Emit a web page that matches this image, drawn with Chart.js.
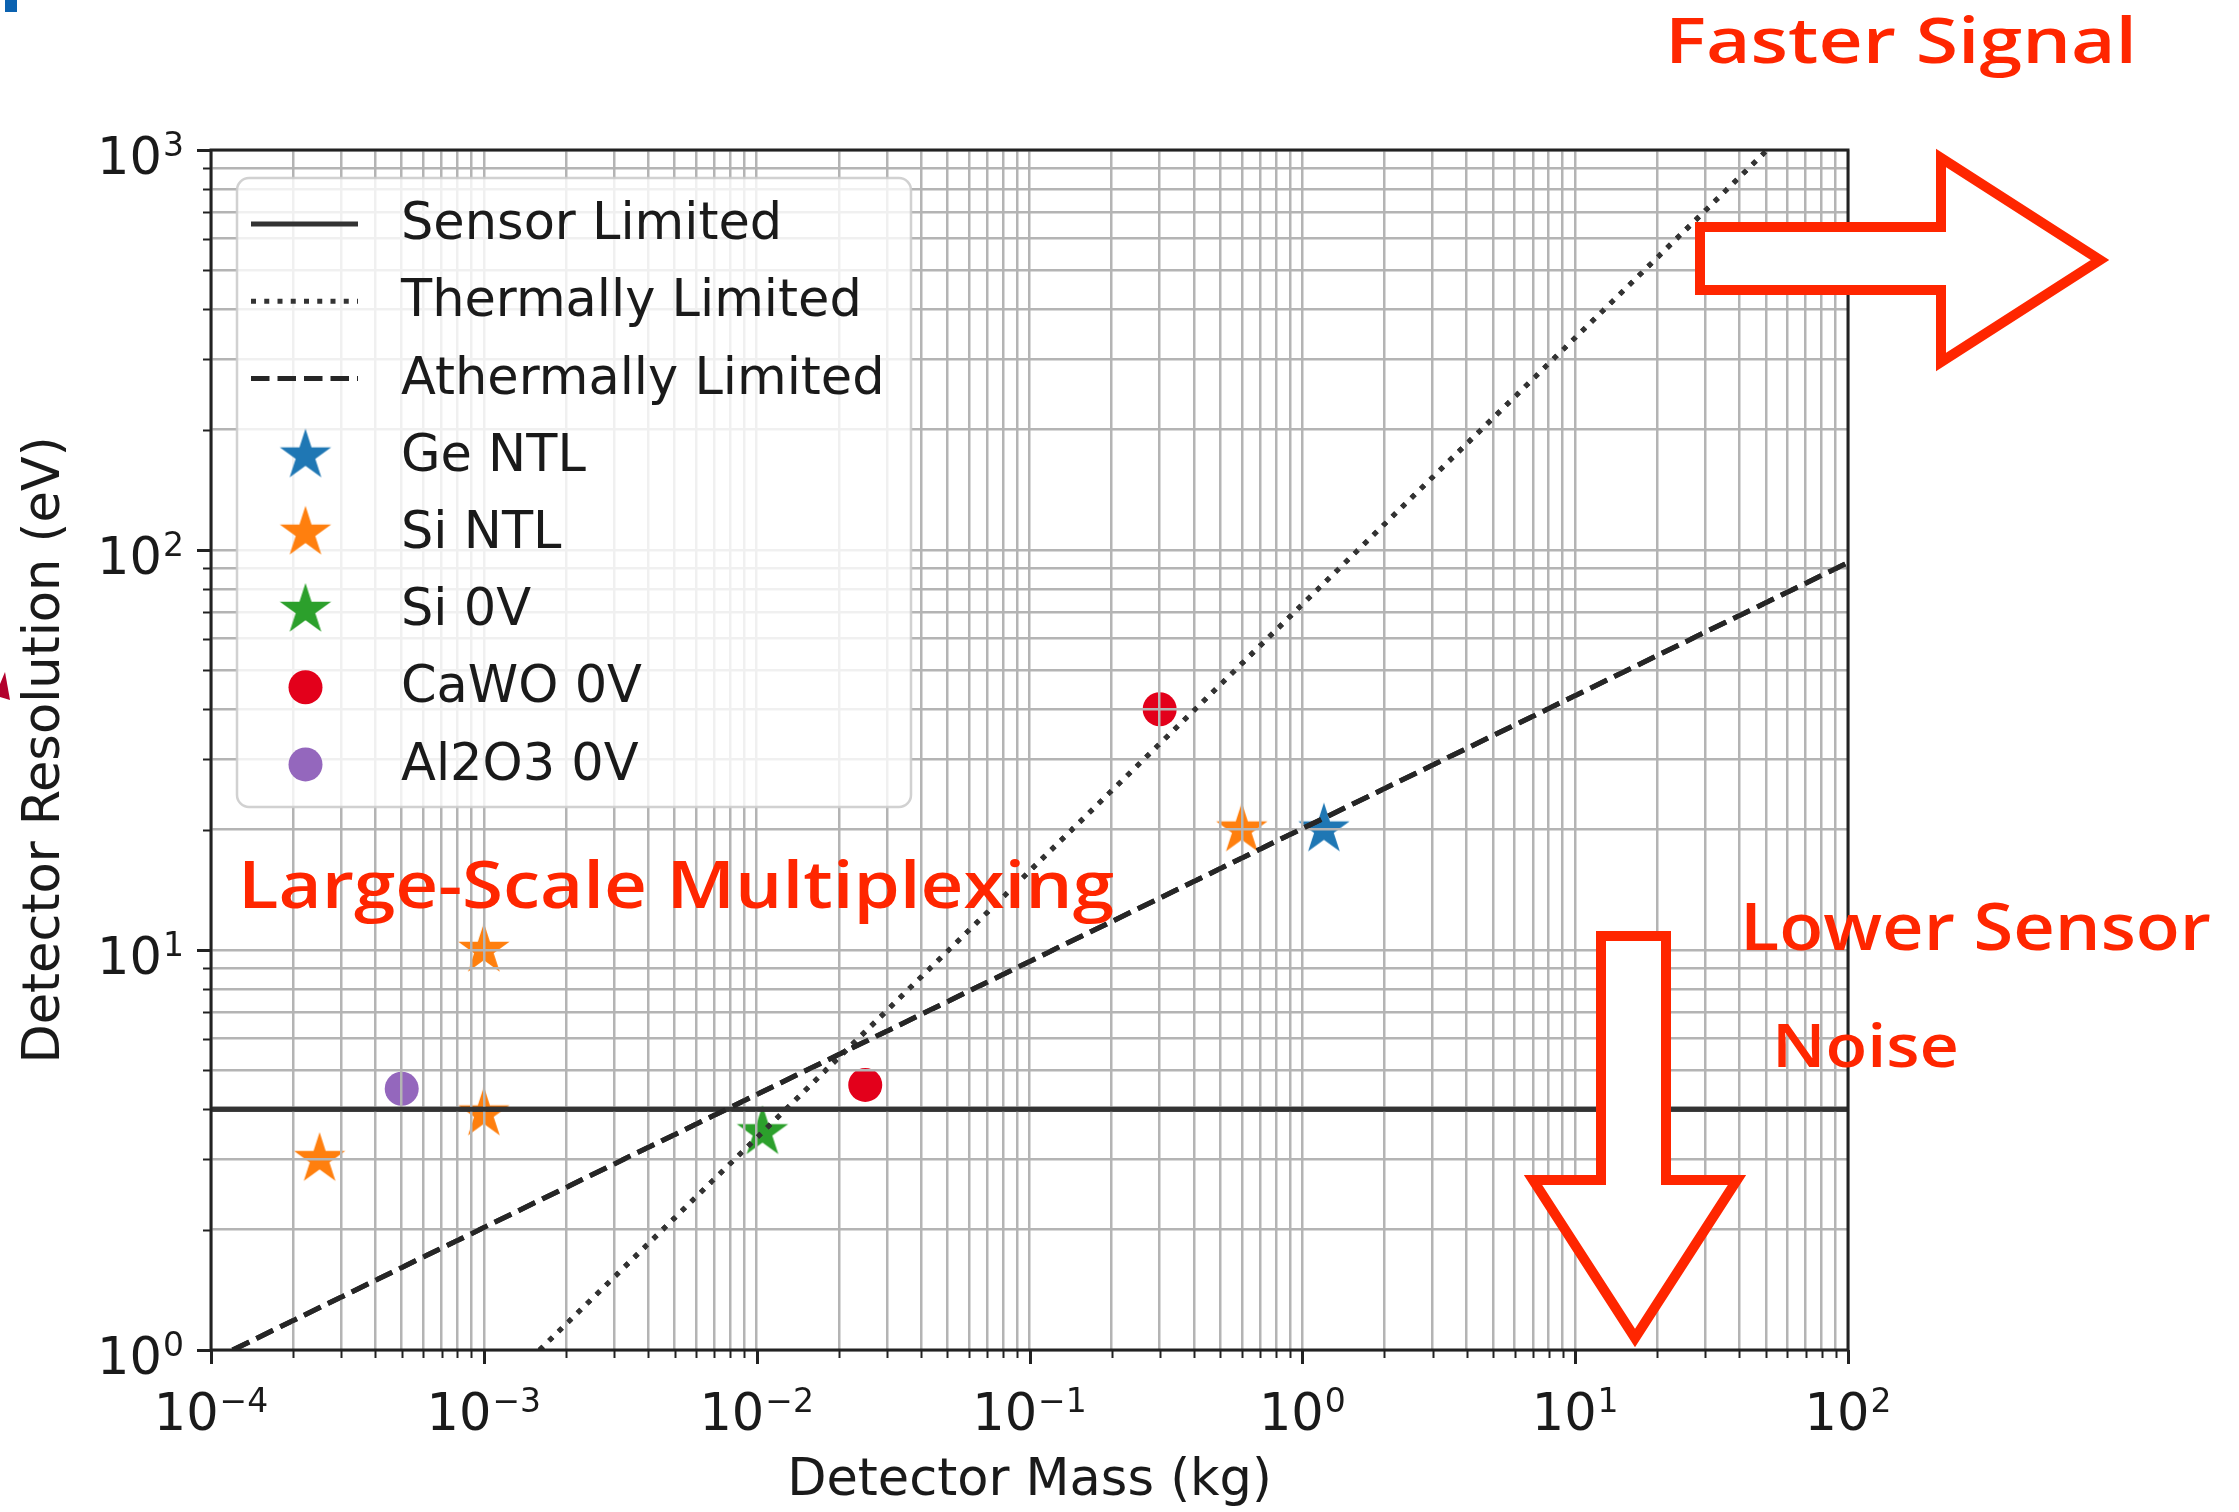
<!DOCTYPE html>
<html>
<head>
<meta charset="utf-8">
<title>Detector Resolution vs Detector Mass</title>
<script src="https://cdn.jsdelivr.net/npm/chart.js@4.4.1/dist/chart.umd.min.js"></script>
<style>
  html, body { margin: 0; padding: 0; background: #ffffff; }
  #wrap { width: 2239px; height: 1512px; position: relative; }
  canvas { display: block; }
</style>
</head>
<body>
<div id="wrap"><canvas id="chart" width="2239" height="1512"></canvas></div>
<script>
// ---- data (detector mass in kg, resolution in eV) ----
const sensorMass    = [1e-4, 1e2];
const sensorRes     = [4, 4];
const thermalMass   = [1.6e-3, 50.6];
const thermalRes    = [1, 1000];
const athermalMass  = [1.2e-4, 100];
const athermalRes   = [1, 93];

const geNtlMass  = [1.2];
const geNtlRes   = [20];
const siNtlMass  = [2.5e-4, 1e-3, 1e-3, 0.6];
const siNtlRes   = [3.0, 3.9, 10, 20];
const si0vMass   = [0.0105];
const si0vRes    = [3.5];
const cawoMass   = [0.025, 0.3];
const cawoRes    = [4.6, 40];
const al2o3Mass  = [5e-4];
const al2o3Res   = [4.5];

// axis decades and tick labels (base and exponent)
const xDecades = [-4, -3, -2, -1, 0, 1, 2];
const yDecades = [0, 1, 2, 3];
const tickBase = '10';
const xTickExponents = ['\u22124', '\u22123', '\u22122', '\u22121', '0', '1', '2'];
const yTickExponents = ['0', '1', '2', '3'];

// annotation texts
const notes = {
  faster: 'Faster Signal',
  multiplex: 'Large-Scale Multiplexing',
  lower: 'Lower Sensor',
  noise: 'Noise'
};

const pts = (xs, ys) => xs.map((x, i) => ({ x, y: ys[i] }));

const FONT = "'DejaVu Sans', 'Liberation Sans', sans-serif";
const LINE_COLOR = '#333333';
const RED_NOTE = '#ff2600';
const TEXT_COLOR = '#1a1a1a';

// five-pointed star marker drawn on a small canvas
function starMarker(color, R) {
  const c = document.createElement('canvas');
  const size = Math.ceil(R * 2 + 4);
  c.width = size; c.height = size;
  const g = c.getContext('2d');
  const cx = size / 2, cy = size / 2, r = R * 0.381966;
  g.beginPath();
  for (let k = 0; k < 10; k++) {
    const rad = k % 2 === 0 ? R : r;
    const a = -Math.PI / 2 + k * Math.PI / 5;
    const px = cx + rad * Math.cos(a), py = cy + rad * Math.sin(a);
    if (k === 0) g.moveTo(px, py); else g.lineTo(px, py);
  }
  g.closePath();
  g.fillStyle = color;
  g.fill();
  return c;
}

const STAR_R = 27;
const DOT_R = 17;

const datasets = [
  { label: 'Sensor Limited', data: pts(sensorMass, sensorRes), showLine: true,
    borderColor: LINE_COLOR, borderWidth: 5, pointRadius: 0, legendKind: 'line' },
  { label: 'Thermally Limited', data: pts(thermalMass, thermalRes), showLine: true,
    borderColor: LINE_COLOR, borderWidth: 5, borderDash: [5, 8.25], pointRadius: 0, legendKind: 'line' },
  { label: 'Athermally Limited', data: pts(athermalMass, athermalRes), showLine: true,
    borderColor: '#262626', borderWidth: 5, borderDash: [18.5, 8], pointRadius: 0, legendKind: 'line' },
  { label: 'Ge NTL', data: pts(geNtlMass, geNtlRes), pointStyle: starMarker('#1f77b4', STAR_R),
    pointRadius: STAR_R, markerColor: '#1f77b4', legendKind: 'star' },
  { label: 'Si NTL', data: pts(siNtlMass, siNtlRes), pointStyle: starMarker('#ff7f0e', STAR_R),
    pointRadius: STAR_R, markerColor: '#ff7f0e', legendKind: 'star' },
  { label: 'Si 0V', data: pts(si0vMass, si0vRes), pointStyle: starMarker('#2ca02c', STAR_R),
    pointRadius: STAR_R, markerColor: '#2ca02c', legendKind: 'star' },
  { label: 'CaWO 0V', data: pts(cawoMass, cawoRes), pointStyle: 'circle',
    pointRadius: DOT_R, backgroundColor: '#e3001b', borderWidth: 0, markerColor: '#e3001b', legendKind: 'dot' },
  { label: 'Al2O3 0V', data: pts(al2o3Mass, al2o3Res), pointStyle: 'circle',
    pointRadius: DOT_R, backgroundColor: '#9467bd', borderWidth: 0, markerColor: '#9467bd', legendKind: 'dot' }
];

function logTicks(decades) {
  const out = [];
  decades.forEach((e, i) => {
    const base = Math.pow(10, e);
    out.push({ value: base, major: true });
    if (i < decades.length - 1) {
      for (let m = 2; m <= 9; m++) out.push({ value: m * base, major: false });
    }
  });
  return out;
}

const gridStyle = {
  color: '#b4b4b4', lineWidth: 2.5, z: 1,
  drawTicks: false
};

// "10" with a raised, smaller exponent; anchor 'center' or 'right'
function drawPowerLabel(ctx, exp, x, baseline, anchor) {
  const baseFont = '51px ' + FONT, expFont = '33px ' + FONT;
  ctx.font = baseFont;
  const wb = ctx.measureText(tickBase).width;
  ctx.font = expFont;
  const we = ctx.measureText(exp).width;
  const total = wb + 1 + we;
  const x0 = anchor === 'center' ? x - total / 2 : x - total;
  ctx.textAlign = 'left';
  ctx.textBaseline = 'alphabetic';
  ctx.fillStyle = TEXT_COLOR;
  ctx.font = baseFont;
  ctx.fillText(tickBase, x0, baseline);
  ctx.font = expFont;
  ctx.fillText(exp, x0 + wb + 1, baseline - 18);
}

// white page, then lines redrawn above the grid, ticks, labels, frame, legend, notes
const decor = {
  id: 'decor',
  beforeDraw(chart) {
    const ctx = chart.ctx;
    ctx.save();
    ctx.fillStyle = '#ffffff';
    ctx.fillRect(0, 0, chart.width, chart.height);
    ctx.restore();
  },
  afterDraw(chart) {
    const ctx = chart.ctx;
    const a = chart.chartArea;

    // lines sit above the grid, markers below it
    chart.data.datasets.forEach((ds, i) => {
      if (!ds.showLine) return;
      const meta = chart.getDatasetMeta(i);
      ctx.save();
      ctx.beginPath();
      ctx.rect(a.left, a.top, a.right - a.left, a.bottom - a.top);
      ctx.clip();
      meta.dataset.draw(ctx, a);
      ctx.restore();
    });

    // tick marks (outward, major longer than minor)
    const xs = chart.scales.x, ys = chart.scales.y;
    ctx.save();
    ctx.strokeStyle = '#222222';
    xs.ticks.forEach(t => {
      const px = Math.round(xs.getPixelForValue(t.value)) + 0.5;
      ctx.lineWidth = t.major ? 3 : 2;
      ctx.beginPath();
      ctx.moveTo(px, a.bottom);
      ctx.lineTo(px, a.bottom + (t.major ? 14 : 8));
      ctx.stroke();
    });
    ys.ticks.forEach(t => {
      const py = Math.round(ys.getPixelForValue(t.value)) + 0.5;
      ctx.lineWidth = t.major ? 3 : 2;
      ctx.beginPath();
      ctx.moveTo(a.left, py);
      ctx.lineTo(a.left - (t.major ? 14 : 8), py);
      ctx.stroke();
    });
    // axes frame
    ctx.lineWidth = 3;
    ctx.strokeRect(a.left, a.top, a.right - a.left, a.bottom - a.top);
    ctx.restore();

    // decade tick labels
    ctx.save();
    xDecades.forEach((e, i) => {
      const px = xs.getPixelForValue(Math.pow(10, e));
      drawPowerLabel(ctx, xTickExponents[i], px, a.bottom + 80, 'center');
    });
    yDecades.forEach((e, i) => {
      const py = ys.getPixelForValue(Math.pow(10, e));
      drawPowerLabel(ctx, yTickExponents[i], a.left - 27, py + 24, 'right');
    });
    ctx.restore();

    // legend
    const box = { x: a.left + 26, y: a.top + 28, w: 674, h: 629 };
    ctx.save();
    ctx.beginPath();
    ctx.roundRect(box.x, box.y, box.w, box.h, 12);
    ctx.fillStyle = 'rgba(255,255,255,0.8)';
    ctx.fill();
    ctx.lineWidth = 2.5;
    ctx.strokeStyle = 'rgba(204,204,204,0.9)';
    ctx.stroke();
    const rowH = 77.2;
    const sampleX0 = box.x + 14, sampleX1 = box.x + 121, markX = box.x + 68.5, textX = box.x + 164;
    ctx.font = '51px ' + FONT;
    ctx.textBaseline = 'middle';
    ctx.textAlign = 'left';
    chart.data.datasets.forEach((ds, i) => {
      const cy = box.y + 46 + i * rowH;
      if (ds.legendKind === 'line') {
        ctx.save();
        ctx.strokeStyle = ds.borderColor;
        ctx.lineWidth = ds.borderWidth;
        ctx.setLineDash(ds.borderDash || []);
        ctx.beginPath();
        ctx.moveTo(sampleX0, cy);
        ctx.lineTo(sampleX1, cy);
        ctx.stroke();
        ctx.restore();
      } else if (ds.legendKind === 'star') {
        const img = ds.pointStyle;
        ctx.drawImage(img, markX - img.width / 2, cy - img.height / 2);
      } else {
        ctx.beginPath();
        ctx.arc(markX, cy, DOT_R, 0, Math.PI * 2);
        ctx.fillStyle = ds.markerColor;
        ctx.fill();
      }
      ctx.fillStyle = TEXT_COLOR;
      ctx.fillText(ds.label, textX, cy + 2);
    });
    ctx.restore();

    // hand-drawn style notes and arrows
    ctx.save();
    ctx.lineJoin = 'miter';
    ctx.lineWidth = 10;
    ctx.strokeStyle = RED_NOTE;
    ctx.fillStyle = '#ffffff';
    const poly = (p) => {
      ctx.beginPath();
      p.forEach((q, k) => k === 0 ? ctx.moveTo(q[0], q[1]) : ctx.lineTo(q[0], q[1]));
      ctx.closePath();
      ctx.fill();
      ctx.stroke();
    };
    poly([[1700, 227], [1941, 227], [1941, 158], [2100, 260], [1941, 362], [1941, 290], [1700, 290]]);
    poly([[1601, 936], [1666, 936], [1666, 1180], [1737, 1180], [1635, 1338], [1533, 1180], [1601, 1180]]);

    const fitText = (txt, x0, x1, baseline, size) => {
      ctx.font = '600 ' + size + "px 'Open Sans', 'Noto Sans', sans-serif";
      const w = ctx.measureText(txt).width;
      ctx.save();
      ctx.translate(x0, baseline);
      ctx.scale((x1 - x0) / w, 1);
      ctx.fillStyle = RED_NOTE;
      ctx.textBaseline = 'alphabetic';
      ctx.textAlign = 'left';
      ctx.fillText(txt, 0, 0);
      ctx.restore();
    };
    fitText(notes.faster, 1665, 2137, 63, 64);
    fitText(notes.multiplex, 238, 1114, 908, 66);
    fitText(notes.lower, 1740, 2211, 950, 65);
    fitText(notes.noise, 1772, 1959, 1067, 60);
    ctx.restore();

    // page edge fragments
    ctx.save();
    ctx.fillStyle = '#0b62b0';
    ctx.fillRect(5, 0, 12, 12);
    ctx.fillStyle = '#b3002c';
    ctx.beginPath();
    ctx.moveTo(0, 684); ctx.lineTo(5, 672); ctx.lineTo(10, 700); ctx.lineTo(0, 697);
    ctx.closePath();
    ctx.fill();
    ctx.restore();
  }
};

new Chart(document.getElementById('chart'), {
  type: 'scatter',
  data: { datasets },
  options: {
    responsive: false,
    animation: false,
    devicePixelRatio: 1,
    layout: { padding: { left: 0, top: 150, right: 391, bottom: 0 } },
    plugins: { legend: { display: false }, tooltip: { enabled: false } },
    elements: { line: { tension: 0, borderCapStyle: 'butt' } },
    scales: {
      x: {
        type: 'logarithmic',
        min: 1e-4, max: 1e2,
        afterBuildTicks: s => { s.ticks = logTicks(xDecades); },
        afterFit: s => { s.height = 162; },
        grid: gridStyle,
        border: { display: false },
        ticks: { display: false, autoSkip: false, maxRotation: 0, minRotation: 0 },
        title: { display: true, text: 'Detector Mass (kg)', color: TEXT_COLOR,
                 font: { family: FONT, size: 51 }, padding: { top: 0, bottom: 0 } }
      },
      y: {
        type: 'logarithmic',
        min: 1, max: 1000,
        afterBuildTicks: s => { s.ticks = logTicks(yDecades); },
        afterFit: s => { s.width = 211; },
        grid: gridStyle,
        border: { display: false },
        ticks: { display: false, autoSkip: false },
        title: { display: true, text: 'Detector Resolution (eV)', color: TEXT_COLOR,
                 font: { family: FONT, size: 51 }, padding: { top: 15, bottom: 0 } }
      }
    }
  },
  plugins: [decor]
});
</script>
</body>
</html>
